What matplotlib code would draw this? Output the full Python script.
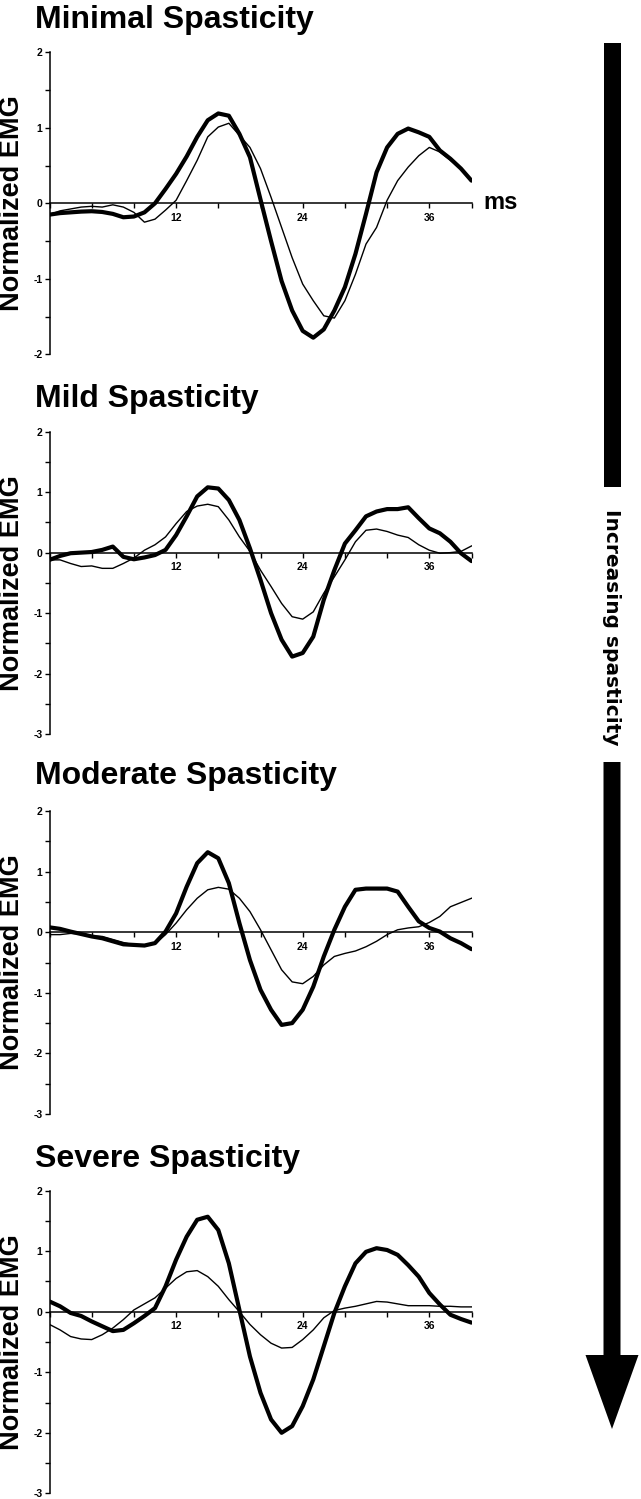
import numpy as np
import matplotlib
matplotlib.use("Agg")
import matplotlib.pyplot as plt
import matplotlib.ticker as ticker
from matplotlib.patches import Rectangle, FancyArrow

plt.rcParams['font.family'] = ['Liberation Sans', 'DejaVu Sans']

# time axis, ms
t_ms = np.arange(0, 41)

titles = ['Minimal Spasticity', 'Mild Spasticity', 'Moderate Spasticity', 'Severe Spasticity']

minimal_thick = [-0.15, -0.13, -0.12, -0.11, -0.105, -0.115, -0.14, -0.185, -0.175, -0.12,
                 0.0, 0.19, 0.39, 0.62, 0.88, 1.10, 1.19, 1.16, 0.92, 0.61,
                 0.05, -0.50, -1.03, -1.42, -1.69, -1.78, -1.67, -1.42, -1.11, -0.67,
                 -0.14, 0.41, 0.74, 0.92, 0.99, 0.94, 0.88, 0.70, 0.59, 0.46, 0.30]
minimal_thin = [-0.15, -0.10, -0.075, -0.05, -0.04, -0.05, -0.02, -0.05, -0.12, -0.25,
                -0.21, -0.09, 0.04, 0.30, 0.57, 0.88, 1.01, 1.06, 0.90, 0.74,
                0.46, 0.08, -0.32, -0.72, -1.07, -1.29, -1.49, -1.52, -1.29, -0.94,
                -0.54, -0.32, 0.04, 0.30, 0.48, 0.63, 0.74, 0.68, 0.57, 0.46, 0.30]

mild_thick = [-0.12, -0.055, -0.01, 0.0, 0.01, 0.045, 0.10, -0.07, -0.11, -0.08,
              -0.04, 0.045, 0.29, 0.60, 0.93, 1.08, 1.06, 0.87, 0.54, 0.07,
              -0.45, -1.00, -1.44, -1.72, -1.66, -1.39, -0.78, -0.29, 0.15, 0.37,
              0.60, 0.68, 0.72, 0.72, 0.75, 0.57, 0.40, 0.32, 0.18, -0.01, -0.14]
mild_thin = [-0.12, -0.12, -0.18, -0.23, -0.22, -0.26, -0.26, -0.18, -0.09, 0.04,
             0.13, 0.26, 0.48, 0.68, 0.77, 0.80, 0.76, 0.54, 0.26, 0.02,
             -0.29, -0.56, -0.84, -1.06, -1.10, -0.98, -0.67, -0.40, -0.12, 0.18,
             0.37, 0.39, 0.35, 0.29, 0.25, 0.13, 0.04, -0.01, 0.0, 0.02, 0.11]

moderate_thick = [0.08, 0.055, 0.01, -0.03, -0.07, -0.10, -0.15, -0.20, -0.21, -0.22,
                  -0.18, 0.01, 0.31, 0.75, 1.14, 1.32, 1.22, 0.81, 0.15, -0.46,
                  -0.95, -1.28, -1.53, -1.50, -1.28, -0.90, -0.40, 0.04, 0.42, 0.70,
                  0.72, 0.72, 0.72, 0.67, 0.42, 0.18, 0.07, 0.01, -0.10, -0.18, -0.28]
moderate_thin = [-0.04, -0.04, -0.02, -0.03, -0.06, -0.07, -0.12, -0.17, -0.21, -0.22,
                 -0.19, -0.04, 0.15, 0.37, 0.56, 0.70, 0.74, 0.71, 0.56, 0.34,
                 0.04, -0.29, -0.62, -0.82, -0.85, -0.73, -0.54, -0.40, -0.35, -0.31,
                 -0.24, -0.15, -0.04, 0.04, 0.07, 0.09, 0.16, 0.26, 0.42, 0.49, 0.56]

severe_thick = [0.17, 0.09, -0.02, -0.07, -0.16, -0.24, -0.32, -0.30, -0.19, -0.07,
                0.06, 0.42, 0.86, 1.24, 1.52, 1.57, 1.35, 0.80, 0.03, -0.74,
                -1.34, -1.78, -2.00, -1.89, -1.56, -1.12, -0.57, -0.02, 0.42, 0.80,
                0.99, 1.05, 1.02, 0.94, 0.77, 0.58, 0.31, 0.12, -0.05, -0.12, -0.18]
severe_thin = [-0.21, -0.30, -0.41, -0.45, -0.46, -0.38, -0.27, -0.13, 0.03, 0.13,
               0.23, 0.39, 0.55, 0.66, 0.68, 0.58, 0.42, 0.20, 0.0, -0.21,
               -0.38, -0.52, -0.60, -0.59, -0.46, -0.30, -0.10, 0.02, 0.06, 0.09,
               0.13, 0.17, 0.16, 0.13, 0.10, 0.10, 0.10, 0.09, 0.09, 0.08, 0.08]

thick_series = [minimal_thick, mild_thick, moderate_thick, severe_thick]
thin_series = [minimal_thin, mild_thin, moderate_thin, severe_thin]
y_bottoms = [-2, -3, -3, -3]

W, H = 641, 1499
fig = plt.figure(figsize=(W / 100, H / 100), dpi=100)

# panel placement in pixels: (top of y=2, bottom of ylim)
panel_px = [(52.3, 354.3), (431.7, 734.0), (811.0, 1114.0), (1190.7, 1493.3)]
title_base = [28, 406.7, 784, 1166.7]
ax_left, ax_right = 49.5, 471.5

for i in range(4):
    top, bot = panel_px[i]
    ax = fig.add_axes([ax_left / W, 1 - bot / H, (ax_right - ax_left) / W, (bot - top) / H])
    ax.plot(t_ms, thin_series[i], color='black', lw=1.0, solid_joinstyle='round')
    ax.plot(t_ms, thick_series[i], color='black', lw=3.0, solid_joinstyle='round', solid_capstyle='round')
    ax.set_xlim(0, 40)
    ax.set_ylim(y_bottoms[i], 2)

    ax.spines['top'].set_visible(False)
    ax.spines['right'].set_visible(False)
    ax.spines['bottom'].set_position(('data', 0))
    for s in ('left', 'bottom'):
        ax.spines[s].set_linewidth(1.1)

    ax.xaxis.set_major_locator(ticker.FixedLocator([12, 24, 36]))
    ax.xaxis.set_minor_locator(ticker.MultipleLocator(4))
    ax.yaxis.set_major_locator(ticker.MultipleLocator(1))
    ax.yaxis.set_minor_locator(ticker.MultipleLocator(0.5))
    ax.yaxis.set_major_formatter(ticker.FormatStrFormatter('%d'))
    ax.tick_params(axis='x', which='both', direction='out', length=3.5, width=1.0, pad=3.5,
                   labelsize=7.5)
    ax.tick_params(axis='y', which='both', direction='out', length=3.5, width=1.0, pad=1.5,
                   labelsize=7.5)
    for lab in ax.get_xticklabels() + ax.get_yticklabels():
        lab.set_fontweight('bold')

    fig.text(35 / W, 1 - title_base[i] / H, titles[i], fontsize=23, fontweight='bold',
             ha='left', va='baseline')
    fig.text(12.5 / W, 1 - (top + bot) / 2 / H, 'Normalized EMG', fontsize=19.5,
             fontweight='bold', rotation=90, ha='center', va='center')

    if i == 0:
        ax.text(41.1, -0.074, 'ms', fontsize=17, fontweight='bold', ha='left', va='baseline',
                clip_on=False)

# arrow on the right
ax_arr = fig.add_axes([0, 0, 1, 1])
ax_arr.set_xlim(0, W)
ax_arr.set_ylim(H, 0)
ax_arr.axis('off')
ax_arr.add_patch(Rectangle((603.5, 43), 17, 444, color='black', lw=0))
ax_arr.add_patch(FancyArrow(612, 762, 0, 1429 - 762, width=17, head_width=53, head_length=74,
                            length_includes_head=True, color='black', lw=0))
ax_arr.text(612, 627, 'Increasing spasticity', family='DejaVu Sans', fontweight='bold',
            fontsize=14.5, rotation=-90, ha='center', va='center')

fig.savefig('out.png', dpi=100)
